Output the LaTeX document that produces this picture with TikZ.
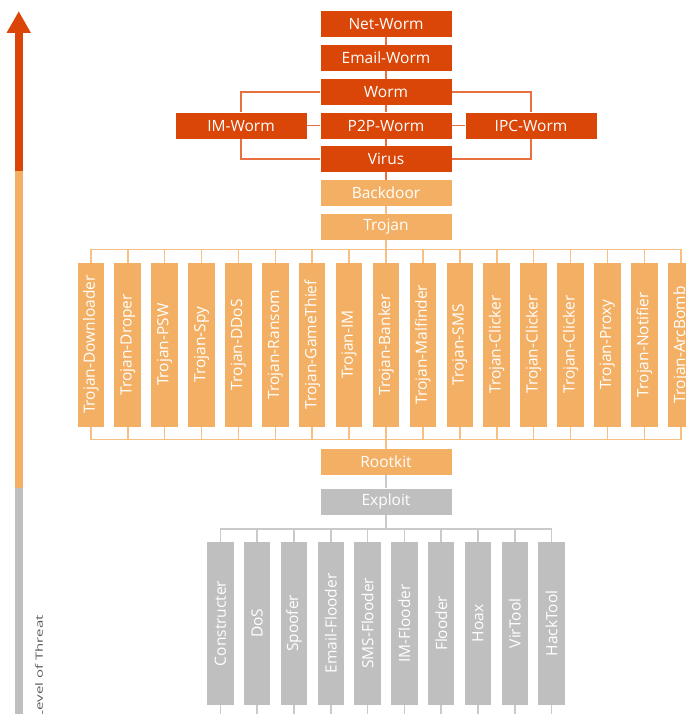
\documentclass[tikz,border=0pt]{standalone}
\usepackage{fontspec}
\setmainfont{Open Sans}
\usepackage{tikz}
\definecolor{wormred}{RGB}{218,70,8}
\definecolor{wormline}{RGB}{232,112,64}
\definecolor{trojanorange}{RGB}{243,176,100}
\definecolor{trojanline}{RGB}{246,192,132}
\definecolor{toolgray}{RGB}{191,191,191}
\definecolor{toolline}{RGB}{202,202,202}
\definecolor{labelgray}{RGB}{90,90,90}

\begin{document}
\begin{tikzpicture}[x=1pt,y=-1pt,
        box/.style={fill=#1,text=white,inner sep=0pt,
                    font=\fontsize{15.5}{18}\selectfont},
        flatbox/.style={box=#1,minimum width=131pt,minimum height=26pt},
        tallbox/.style={box=#1,rotate=90,minimum width=164pt,minimum height=26.5pt},
        link/.style={draw=#1,line width=1.6pt}]
            \useasboundingbox (0,0) rectangle (685,714);
            % threat bar
            \fill[wormred] (15,33) rectangle (22.5,171);
            \fill[trojanorange] (15,171) rectangle (22.5,488);
            \fill[toolgray] (15,488) rectangle (22.5,714);
            \fill[wormred] (6.5,33) -- (31,33) -- (18.75,11.5) -- cycle;
            \node[rotate=90,xscale=1.5,anchor=east,inner sep=0pt,text=labelgray,
                  font=\fontsize{10}{12}\selectfont] (threat) at (39,615) {Level of Threat};
            % worms
            \node[flatbox=wormred] (networm) at (386,24) {Net-Worm};
            \node[flatbox=wormred] (emailworm) at (386,58) {Email-Worm};
            \node[flatbox=wormred] (worm) at (386,92) {Worm};
            \node[flatbox=wormred] (ptpworm) at (386,125.7) {P2P-Worm};
            \node[flatbox=wormred] (virus) at (386,159) {Virus};
            \node[flatbox=wormred] (imworm) at (241,125.7) {IM-Worm};
            \node[flatbox=wormred] (ipcworm) at (531,125.7) {IPC-Worm};
            \draw[link=wormline] (networm) -- (emailworm);
            \draw[link=wormline] (emailworm) -- (worm);
            \draw[link=wormline] (worm) -- (ptpworm);
            \draw[link=wormline] (ptpworm) -- (virus);
            \draw[link=wormline] (ptpworm) -- (imworm);
            \draw[link=wormline] (ptpworm) -- (ipcworm);
            \draw[link=wormline] (worm.west) -| (imworm.north);
            \draw[link=wormline] (virus.west) -| (imworm.south);
            \draw[link=wormline] (worm.east) -| (ipcworm.north);
            \draw[link=wormline] (virus.east) -| (ipcworm.south);
            % trojans
            \node[flatbox=trojanorange] (backdoor) at (386,193) {Backdoor};
            \node[flatbox=trojanorange] (trojan) at (386,227) {Trojan};
            \node[flatbox=trojanorange] (rootkit) at (386,462) {Rootkit};
            \draw[link=wormline] (virus) -- (backdoor);
            \draw[link=trojanline] (backdoor) -- (trojan);
            \coordinate (topbus) at (386,249.5);
            \coordinate (lowbus) at (386,439.5);
            \foreach \name [count=\i from 0] in {Trojan-Downloader,Trojan-Droper,Trojan-PSW,
                    Trojan-Spy,Trojan-DDoS,Trojan-Ransom,Trojan-GameThief,Trojan-IM,
                    Trojan-Banker,Trojan-Malfinder,Trojan-SMS,Trojan-Clicker,Trojan-Clicker,
                    Trojan-Clicker,Trojan-Proxy,Trojan-Notifier,Trojan-ArcBomb} {
                \node[tallbox=trojanorange] (t\i) at ({386+(\i-8)*36.9},344.7) {\name};
                \draw[link=trojanline] (t\i.east) |- (topbus);
                \draw[link=trojanline] (t\i.west) |- (lowbus);
            }
            \draw[link=trojanline] (trojan) -- (topbus);
            \draw[link=trojanline] (lowbus) -- (rootkit);
            % tools
            \node[flatbox=toolgray] (exploit) at (386,501.5) {Exploit};
            \draw[link=toolline] (rootkit) -- (exploit);
            \coordinate (toolbus) at (386,529);
            \draw[link=toolline] (exploit) -- (toolbus);
            \foreach \name [count=\i from 0] in {Constructer,DoS,Spoofer,Email-Flooder,
                    SMS-Flooder,IM-Flooder,Flooder,Hoax,VirTool,HackTool} {
                \node[tallbox=toolgray,minimum width=163pt] (g\i) at ({386+(\i-4.5)*36.8},623.4) {\name};
                \draw[link=toolline] (g\i.east) |- (toolbus);
                \draw[link=toolline] (g\i.west) -- (g\i.west |- 0,714);
            }
        \end{tikzpicture}
\end{document}
